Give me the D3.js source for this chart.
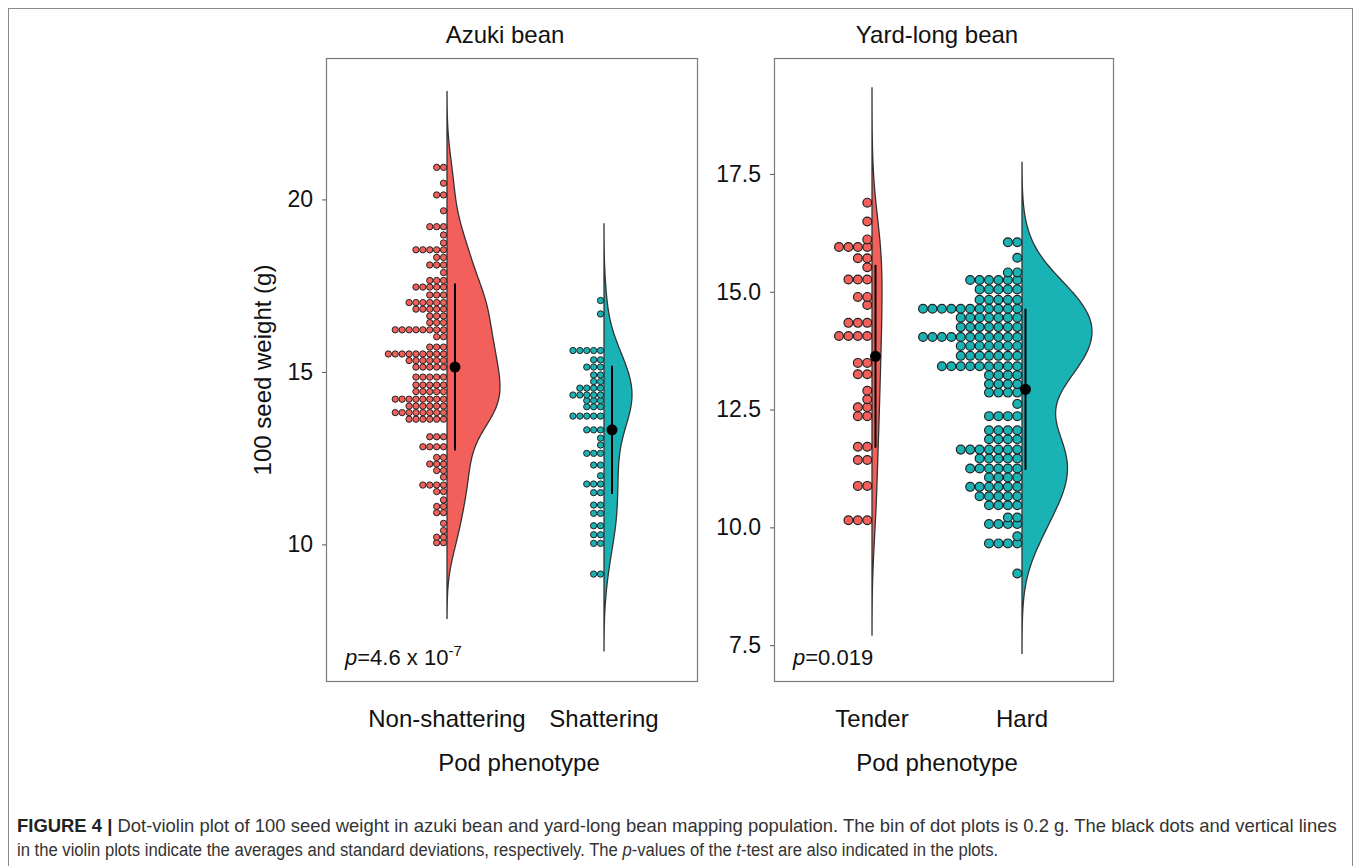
<!DOCTYPE html>
<html>
<head>
<meta charset="utf-8">
<script src="https://cdn.jsdelivr.net/npm/d3@7"></script>
<style>
  body { margin: 0; background: #fff; }
  svg text { font-family: "Liberation Sans", Arial, sans-serif; fill: #111; }
  text.cap { fill: #333; }
</style>
</head>
<body>
<svg id="fig" width="1358" height="866"></svg>
<script>
// 100 seed weight, dot plot bins: [bin centre (g), number of lines]
var nonShattering = [[10.05,2],[10.21,2],[10.40,1],[10.61,1],[10.92,2],[11.10,2],[11.29,1],[11.53,2],
  [11.72,4],[11.95,1],[12.14,2],[12.33,3],[12.52,2],[12.83,4],[13.12,3],[13.63,6],[13.82,8],[14.01,6],
  [14.21,8],[14.43,5],[14.62,5],[14.85,5],[15.14,5],[15.33,6],[15.52,9],[15.72,3],[16.02,2],[16.22,8],
  [16.43,3],[16.62,3],[16.82,5],[17.01,6],[17.23,3],[17.46,5],[17.65,3],[17.88,1],[18.10,3],[18.32,2],
  [18.54,5],[18.74,1],[18.97,1],[19.21,3],[19.67,1],[20.13,2],[20.47,1],[20.93,2]];
var shattering = [[9.14,2],[10.03,2],[10.28,2],[10.54,2],[10.90,2],[11.14,2],[11.50,2],[11.75,3],
  [11.99,1],[12.30,2],[12.64,3],[12.88,1],[13.08,1],[13.32,3],[13.72,5],[13.99,3],[14.17,3],[14.33,5],
  [14.53,4],[14.72,2],[14.91,2],[15.14,3],[15.35,2],[15.62,5],[16.68,1],[17.07,1]];
var tender = [[10.15,3],[10.88,2],[11.43,2],[11.71,2],[12.36,2],[12.55,2],[12.72,1],[12.90,1],[13.25,2],
  [13.49,2],[14.06,4],[14.34,3],[14.72,1],[14.89,2],[15.26,3],[15.52,1],[15.71,2],[15.95,4],[16.11,1],
  [16.49,1],[16.89,1]];
var hard = [[9.02,1],[9.66,4],[9.81,1],[10.07,4],[10.21,2],[10.47,4],[10.66,5],[10.86,6],[11.06,4],
  [11.25,6],[11.46,5],[11.65,7],[11.87,4],[12.06,4],[12.36,4],[12.62,1],[12.86,4],[13.04,4],[13.23,4],
  [13.42,9],[13.64,7],[13.85,7],[14.04,11],[14.25,7],[14.45,7],[14.64,11],[14.83,5],[15.05,5],[15.25,6],
  [15.41,2],[15.72,1],[16.05,2]];

// averages and standard deviations (black dot + line)
var azukiMeans = [15.14, 13.32];
var azukiSDs = [2.42, 1.86];
var ylbMeans = [13.63, 12.93];
var ylbSDs = [1.94, 1.71];

var azukiCats = ["Non-shattering", "Shattering"];
var ylbCats = ["Tender", "Hard"];
var azukiTicks = [10, 15, 20];
var ylbTicks = [7.5, 10, 12.5, 15, 17.5];

var colors = ["#F3605B", "#19B3B6"];

var svg = d3.select("#fig");

// figure frame
svg.append("rect")
    .attr("x", 8.5).attr("y", 8.5)
    .attr("width", 1344).attr("height", 858)
    .attr("fill", "none").attr("stroke", "#8a8a8a").attr("stroke-width", 1);

function expand(bins) {
    var out = [];
    bins.forEach(function(b) { for (var i = 0; i < b[1]; i++) out.push(b[0]); });
    return out;
}

// gaussian kde, bandwidth like R's bw.nrd0
function kde(bins) {
    var vals = expand(bins).sort(d3.ascending);
    var n = vals.length;
    var iqr = d3.quantile(vals, 0.75) - d3.quantile(vals, 0.25);
    var bw = 0.9 * Math.min(d3.deviation(vals), iqr / 1.34) * Math.pow(n, -0.2);
    var lo = vals[0] - 3 * bw, hi = vals[n - 1] + 3 * bw;
    return d3.range(0, 201).map(function(i) {
        var x = lo + (hi - lo) * i / 200;
        var d = d3.sum(vals, function(v) {
            var u = (x - v) / bw;
            return Math.exp(-0.5 * u * u);
        }) / (n * bw * Math.sqrt(2 * Math.PI));
        return [x, d];
    });
}

function panel(opt) {
    var g = svg.append("g");
    var y = d3.scaleLinear().domain(opt.domain).range([opt.bottom, opt.top]);
    var x = d3.scalePoint().domain(opt.cats).range(opt.xRange);

    g.append("rect")
        .attr("x", opt.left + 0.5).attr("y", opt.top + 0.5)
        .attr("width", opt.right - opt.left).attr("height", opt.bottom - opt.top)
        .attr("fill", "none").attr("stroke", "#7a7a7a").attr("stroke-width", 1.2);

    var axis = d3.axisLeft(y).tickValues(opt.ticks).tickSize(4).tickPadding(9)
        .tickFormat(opt.fmt);
    var ax = g.append("g").attr("transform", "translate(" + opt.left + ",0)").call(axis);
    ax.select(".domain").remove();
    ax.selectAll("line").attr("stroke", "#555");
    ax.selectAll("text").style("font-size", "23px").attr("fill", "#111");

    var r = (y(0) - y(0.2)) / 2;

    opt.series.forEach(function(bins, k) {
        var cx = x(opt.cats[k]);
        var dens = kde(bins);
        var maxD = d3.max(dens, function(d) { return d[1]; });
        var area = d3.area()
            .x0(cx)
            .x1(function(d) { return cx + d[1] / maxD * opt.halfWidth[k]; })
            .y(function(d) { return y(d[0]); })
            .curve(d3.curveBasis);
        g.append("path")
            .attr("d", area(dens))
            .attr("fill", colors[k])
            .attr("stroke", "#333")
            .attr("stroke-width", 1.3);

        // dots stacked leftwards from the violin axis
        var dots = [];
        bins.forEach(function(b) {
            for (var i = 0; i < b[1]; i++) dots.push({ v: b[0], i: i });
        });
        g.selectAll(null)
            .data(dots)
            .enter().append("circle")
            .attr("cx", function(d) { return cx - r - d.i * 2 * r; })
            .attr("cy", function(d) { return y(d.v); })
            .attr("r", r - 0.3)
            .attr("fill", colors[k])
            .attr("stroke", "#222")
            .attr("stroke-width", opt.dotStroke);

        var mx = cx + opt.meanShift;
        g.append("line")
            .attr("x1", mx).attr("x2", mx)
            .attr("y1", y(opt.means[k] - opt.sds[k]))
            .attr("y2", y(opt.means[k] + opt.sds[k]))
            .attr("stroke", "#000").attr("stroke-width", 2);
        g.append("circle")
            .attr("cx", mx).attr("cy", y(opt.means[k]))
            .attr("r", 5.5).attr("fill", "#000");
    });

    // category labels
    g.selectAll(null)
        .data(opt.cats)
        .enter().append("text")
        .attr("x", function(d) { return x(d); })
        .attr("y", 727)
        .attr("text-anchor", "middle")
        .style("font-size", "24px")
        .text(function(d) { return d; });

    g.append("text")
        .attr("x", opt.titleX).attr("y", 43)
        .attr("text-anchor", "middle")
        .style("font-size", "24px")
        .text(opt.title);

    g.append("text")
        .attr("x", opt.xTitleX).attr("y", 771)
        .attr("text-anchor", "middle")
        .style("font-size", "24px")
        .text("Pod phenotype");

    var p = g.append("text")
        .attr("x", opt.left + 19).attr("y", 665)
        .style("font-size", "22px");
    p.append("tspan").style("font-style", "italic").text("p");
    p.append("tspan").text(opt.pText);
    if (opt.pExp) {
        p.append("tspan").attr("dy", -9).style("font-size", "15px").text(opt.pExp);
    }
}

panel({
    left: 326, right: 697, top: 58, bottom: 681,
    domain: [6.04, 24.1],
    xRange: [447, 604],
    cats: azukiCats,
    ticks: azukiTicks,
    fmt: d3.format("d"),
    series: [nonShattering, shattering],
    means: azukiMeans, sds: azukiSDs,
    halfWidth: [53, 28],
    meanShift: 8,
    dotStroke: 1,
    title: "Azuki bean", titleX: 505, xTitleX: 519,
    pText: "=4.6 x 10", pExp: "-7"
});

panel({
    left: 774, right: 1113, top: 58, bottom: 681,
    domain: [6.74, 19.96],
    xRange: [872, 1022],
    cats: ylbCats,
    ticks: ylbTicks,
    fmt: d3.format(".1f"),
    series: [tender, hard],
    means: ylbMeans, sds: ylbSDs,
    halfWidth: [10, 70],
    meanShift: 3.5,
    dotStroke: 1.2,
    title: "Yard-long bean", titleX: 937, xTitleX: 937,
    pText: "=0.019", pExp: null
});

// y axis title
svg.append("text")
    .attr("transform", "translate(271,370) rotate(-90)")
    .attr("text-anchor", "middle")
    .style("font-size", "24px")
    .text("100 seed weight (g)");

// caption: written at natural size, then squeezed to the reference width
function captionLine(yPos, width, parts) {
    var t = svg.append("text").attr("class", "cap").style("font-size", "18px");
    parts.forEach(function(p) {
        var s = t.append("tspan").text(p[0]);
        if (p[1] === "b") s.style("font-weight", "bold").attr("fill", "#222");
        if (p[1] === "i") s.style("font-style", "italic");
    });
    var w = t.node().getComputedTextLength();
    t.attr("transform", "translate(17," + yPos + ") scale(" + (width / w) + ",1)");
}

captionLine(832, 1320, [
    ["FIGURE 4 | ", "b"],
    ["Dot-violin plot of 100 seed weight in azuki bean and yard-long bean mapping population. The bin of dot plots is 0.2 g. The black dots and vertical lines"]
]);
captionLine(856, 982, [
    ["in the violin plots indicate the averages and standard deviations, respectively. The "],
    ["p", "i"],
    ["-values of the "],
    ["t", "i"],
    ["-test are also indicated in the plots."]
]);
</script>
</body>
</html>
